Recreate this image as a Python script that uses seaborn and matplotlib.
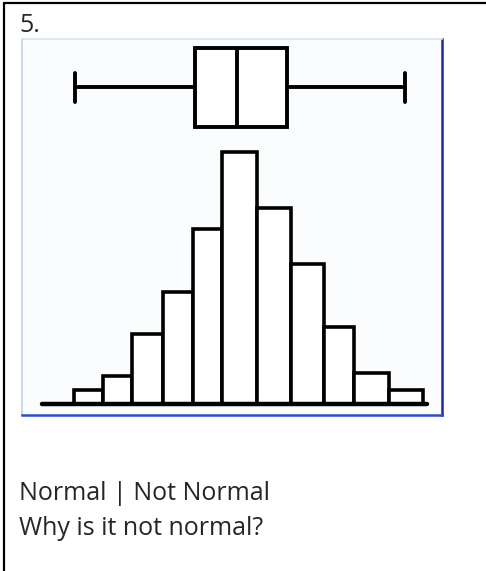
import numpy as np
import pandas as pd
import seaborn as sns
import matplotlib.pyplot as plt
from matplotlib.lines import Line2D

sns.set_style("white")
plt.rcParams['font.family'] = ['Open Sans', 'DejaVu Sans']

# histogram: bin edges (x units) and bar heights (counts)
bin_edges = [0, 29, 58, 89, 119, 148, 183, 217, 250, 280, 315, 349]
counts = [2, 4, 10, 16, 25, 36, 28, 20, 11, 4.5, 2]
# five numbers for the box plot: min, Q1, median, Q3, max
box_vals = [1, 121, 163, 213, 331]

question = "5."
answer_line1 = "Normal | Not Normal"
answer_line2 = "Why is it not normal?"

W, H = 486, 571
fig = plt.figure(figsize=(W / 100, H / 100), dpi=100)

def px_rect(x0, y0, x1, y1):
    # pixel box (top-left origin) -> figure fraction
    return [x0 / W, 1 - y1 / H, (x1 - x0) / W, (y1 - y0) / H]

xlim = (-52, 368)

# picture frame
ax_bg = fig.add_axes(px_rect(22, 39, 442, 415))
ax_bg.set_facecolor('#fbfcfd')
ax_bg.set_xticks([])
ax_bg.set_yticks([])
for side, col, lw in [('left', '#c4d3e3', 1.2), ('top', '#dbe4ec', 1.2),
                      ('right', '#1f2b9e', 1.8), ('bottom', '#2c4bd0', 1.8)]:
    ax_bg.spines[side].set_color(col)
    ax_bg.spines[side].set_linewidth(lw)

# histogram
centers = [(a + b) / 2 for a, b in zip(bin_edges[:-1], bin_edges[1:])]
hist_df = pd.DataFrame({'x': centers, 'n': counts})
ax_h = fig.add_axes(px_rect(22, 140, 442, 404))
ax_h.patch.set_alpha(0)
sns.histplot(data=hist_df, x='x', weights='n', bins=bin_edges, ax=ax_h,
             color='white', edgecolor='black', linewidth=2.6, alpha=1)
ax_h.set_xlim(*xlim)
ax_h.set_ylim(0, 264 / 7)
ax_h.set_xticks([])
ax_h.set_yticks([])
ax_h.set_xlabel('')
ax_h.set_ylabel('')
for side in ['left', 'right', 'top']:
    ax_h.spines[side].set_visible(False)
ax_h.spines['bottom'].set_bounds(-32, 353)
ax_h.spines['bottom'].set_linewidth(3.2)
ax_h.spines['bottom'].set_color('black')
ax_h.spines['bottom'].set_capstyle('round')

# box plot
ax_b = fig.add_axes(px_rect(22, 87.5 - 49.4, 442, 87.5 + 49.4))
ax_b.patch.set_alpha(0)
sns.boxplot(x=box_vals, ax=ax_b, width=0.8, color='white', linecolor='black',
            linewidth=2.8, capwidths=0.3)
ax_b.set_xlim(*xlim)
ax_b.set_ylim(0.5, -0.5)
ax_b.axis('off')

# worksheet cell borders
fig.add_artist(Line2D([4 / W, 1], [1 - 3 / H, 1 - 3 / H], color='black', lw=1.6))
fig.add_artist(Line2D([4 / W, 4 / W], [1 - 3 / H, 0], color='black', lw=1.6))

fig.text(19 / W, 1 - 32 / H, question, fontsize=18, va='baseline', ha='left')
fig.text(19 / W, 1 - 500 / H, answer_line1, fontsize=18, va='baseline', ha='left')
fig.text(19 / W, 1 - 535 / H, answer_line2, fontsize=18, va='baseline', ha='left')

fig.savefig('out.png', dpi=100)
